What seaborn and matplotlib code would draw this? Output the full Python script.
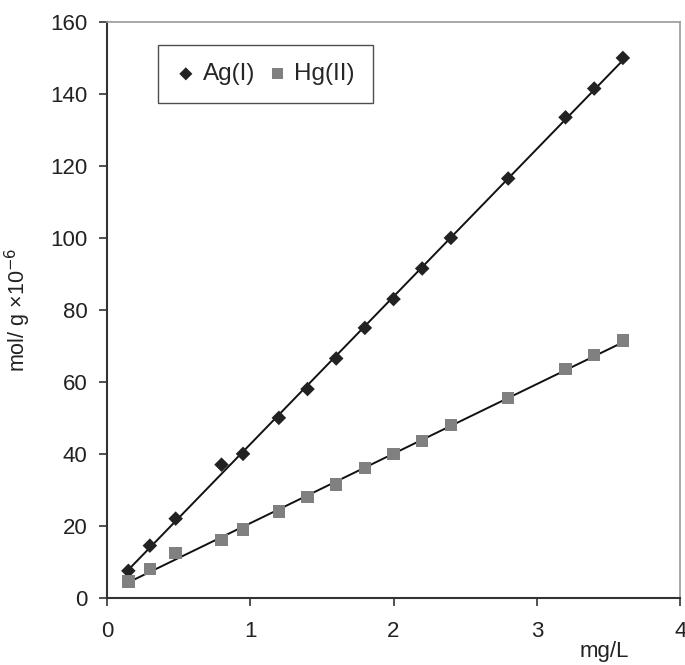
import numpy as np
import pandas as pd
import seaborn as sns
import matplotlib.pyplot as plt

# dados
conc = [0.15, 0.3, 0.48, 0.8, 0.95, 1.2, 1.4, 1.6, 1.8, 2.0, 2.2, 2.4, 2.8, 3.2, 3.4, 3.6]
ag = [7.5, 14.5, 22, 37, 40, 50, 58, 66.5, 75, 83, 91.5, 100, 116.5, 133.5, 141.5, 150]
hg = [4.5, 8, 12.5, 16, 19, 24, 28, 31.5, 36, 40, 43.5, 48, 55.5, 63.5, 67.5, 71.5]
series = ['Ag(I)', 'Hg(II)']

df = pd.DataFrame({
    'mg/L': conc * 2,
    'q': ag + hg,
    'ion': [series[0]] * len(conc) + [series[1]] * len(conc),
})

sns.set_style('ticks')
plt.rcParams['font.family'] = ['Liberation Sans', 'DejaVu Sans']

fig = plt.figure(figsize=(6.85, 6.65), dpi=100)
ax = fig.add_axes([0.156, 0.101, 0.837, 0.866])

cores = {'Ag(I)': '#222222', 'Hg(II)': '#808080'}
marcas = {'Ag(I)': 'D', 'Hg(II)': 's'}
tam = {'Ag(I)': 55, 'Hg(II)': 80}

# linhas de tendência
for ion in series:
    sub = df[df['ion'] == ion]
    sns.regplot(data=sub, x='mg/L', y='q', scatter=False, ci=None, truncate=True,
                color='#111111', line_kws={'lw': 1.4}, ax=ax)

for ion in series:
    sub = df[df['ion'] == ion]
    sns.scatterplot(data=sub, x='mg/L', y='q', marker=marcas[ion], color=cores[ion],
                    s=tam[ion], edgecolor='none', label=ion, ax=ax, zorder=3)

ax.set_xlim(0, 4)
ax.set_ylim(0, 160)
ax.set_xticks([0, 1, 2, 3, 4])
ax.set_yticks(range(0, 161, 20))
ax.tick_params(labelsize=16, length=6, width=1.2, color='#333333', labelcolor='#222222')
ax.tick_params(axis='x', pad=11)
ax.tick_params(axis='y', pad=8)

for s in ['left', 'bottom']:
    ax.spines[s].set_color('#333333')
    ax.spines[s].set_linewidth(1.5)
for s in ['top', 'right']:
    ax.spines[s].set_visible(True)
    ax.spines[s].set_color('#999999')
    ax.spines[s].set_linewidth(1.2)

ax.set_xlabel('')
ax.set_ylabel('mol/ g ×10$^{-6}$', fontsize=15.5, color='#222222')
ax.yaxis.set_label_coords(-0.128, 0.5)
fig.text(0.882, 0.012, 'mg/L', fontsize=16, ha='center', va='baseline', color='#222222')

leg = ax.legend(loc='upper left', bbox_to_anchor=(0.089, 0.960), ncol=2, fontsize=17.5,
                frameon=True, fancybox=False, handletextpad=0.3, columnspacing=0.5,
                handlelength=0.8, borderpad=0.75, borderaxespad=0, markerscale=0.9)
leg.get_frame().set_edgecolor('#222222')
leg.get_frame().set_linewidth(1.0)

plt.savefig('out.png', dpi=100)
